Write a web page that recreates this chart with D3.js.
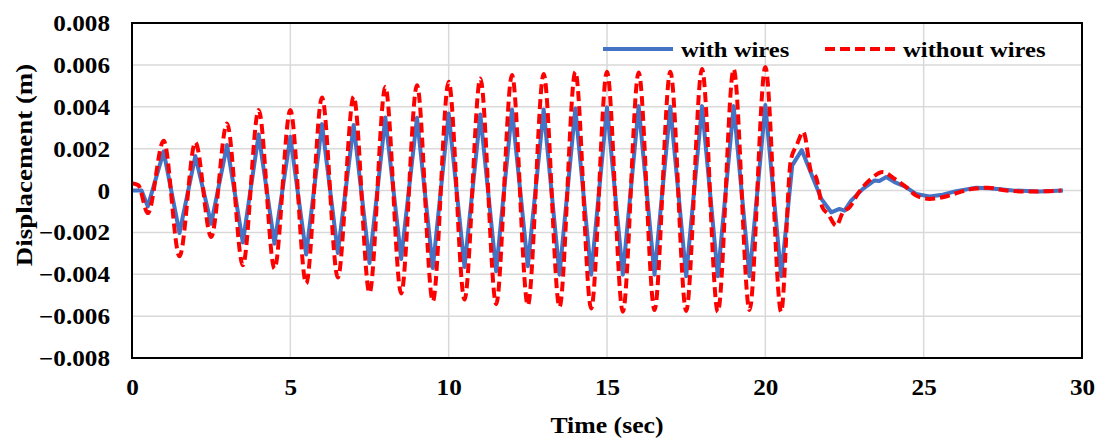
<!DOCTYPE html>
<html>
<head>
<meta charset="utf-8">
<script src="https://cdn.jsdelivr.net/npm/d3@7"></script>
<style>
  body { margin: 0; background: #fff; }
  text { font-family: "Liberation Serif", "Times New Roman", serif; font-weight: bold; fill: #000; }
</style>
</head>
<body>
<div id="chart"></div>
<script>
// time (sec) and displacement (m)
var timeWith = [0, 0.3, 0.5, 1, 1.5, 2, 2.5, 3, 3.5, 4, 4.5, 5, 5.5, 6, 6.5, 7, 7.5, 8, 8.5, 9, 9.5,
  10, 10.5, 11, 11.5, 12, 12.5, 13, 13.5, 14, 14.5, 15, 15.5, 16, 16.5, 17, 17.5, 18, 18.5, 19, 19.5,
  20, 20.5, 20.85, 21.15, 21.45, 21.77, 22.08, 22.34, 22.5, 22.71, 23.08, 23.45, 23.6, 23.82, 24.08,
  24.4, 24.76, 25.18, 25.6, 26.03, 26.66, 27.08, 27.82, 28.66, 29.4];
var dispWith = [0, 0, -0.00076, 0.00186, -0.00203, 0.00165, -0.00159, 0.00217, -0.00248, 0.00268,
  -0.00254, 0.00257, -0.00306, 0.00317, -0.00298, 0.00313, -0.00346, 0.00349, -0.00327, 0.00348,
  -0.0037, 0.00368, -0.00365, 0.00363, -0.00386, 0.00387, -0.00362, 0.00387, -0.00402, 0.00392,
  -0.00402, 0.00397, -0.00402, 0.00403, -0.00402, 0.004, -0.0041, 0.00403, -0.0041, 0.00403,
  -0.0041, 0.00408, -0.0041, 0.0012, 0.00193, 0.0008, -0.0004, -0.00104, -0.00088, -0.00096,
  -0.00048, 0.00008, 0.00048, 0.00045, 0.00064, 0.0004, 0.0002, -0.00016, -0.00029, -0.0002,
  -0.00003, 0.00013, 0.00011, 0, -0.00005, 0];

var timeWithout = [0, 0.2, 0.5, 1, 1.5, 2, 2.5, 3, 3.5, 4, 4.5, 5, 5.5, 6, 6.5, 7, 7.5, 8, 8.5, 9, 9.5,
  10, 10.5, 11, 11.5, 12, 12.5, 13, 13.5, 14, 14.5, 15, 15.5, 16, 16.5, 17, 17.5, 18, 18.5, 19, 19.5,
  20, 20.5, 20.8, 21.0, 21.2, 21.45, 21.6, 21.8, 21.98, 22.24, 22.45, 22.66, 22.92, 23.34, 23.71,
  24.08, 24.45, 24.76, 25.18, 25.6, 26.14, 26.56, 27.03, 27.6, 28.45, 29.35];
var dispWithout = [0.00035, 0.00025, -0.00108, 0.00238, -0.00314, 0.0023, -0.00222, 0.0032, -0.00357,
  0.00384, -0.00373, 0.00384, -0.00444, 0.00444, -0.00416, 0.00449, -0.00489, 0.00495, -0.00492,
  0.00503, -0.00529, 0.00519, -0.00521, 0.00535, -0.00543, 0.00552, -0.00548, 0.00556, -0.00556,
  0.00567, -0.00563, 0.00567, -0.00579, 0.00563, -0.00571, 0.00567, -0.00575, 0.0058, -0.0058,
  0.0058, -0.00571, 0.0059, -0.00579, 0.0014, 0.0022, 0.0028, 0.00088, 0.00064, -0.0008, -0.00112,
  -0.00168, -0.00104, -0.0008, -0.00016, 0.00056, 0.00088, 0.00056, 0.00016, -0.00024, -0.0004,
  -0.00032, -0.00008, 0.00008, 0.00013, 0, -0.00005, 0];

var xTicks = [0, 5, 10, 15, 20, 25, 30];
var yTicks = [-0.008, -0.006, -0.004, -0.002, 0, 0.002, 0.004, 0.006, 0.008];
var seriesNames = ["with wires", "without wires"];

var W = 1101, H = 439;
var margin = {top: 23, right: 19, bottom: 81, left: 132};
var width = W - margin.left - margin.right,
    height = H - margin.top - margin.bottom;
var stretch = 1.12; // the original lettering is a bit wide

var svg = d3.select("#chart").append("svg")
    .attr("width", W)
    .attr("height", H);
var g = svg.append("g")
    .attr("transform", "translate(" + margin.left + "," + margin.top + ")");

var x = d3.scaleLinear().domain([0, 30]).range([0, width]);
var y = d3.scaleLinear().domain([-0.008, 0.008]).range([height, 0]);

// grid
g.append("g").selectAll("line.h")
  .data(yTicks).enter().append("line")
    .attr("x1", 0).attr("x2", width)
    .attr("y1", function(d) { return y(d); })
    .attr("y2", function(d) { return y(d); })
    .attr("stroke", "#d9d9d9").attr("stroke-width", 1.5);
g.append("g").selectAll("line.v")
  .data(xTicks).enter().append("line")
    .attr("y1", 0).attr("y2", height)
    .attr("x1", function(d) { return x(d); })
    .attr("x2", function(d) { return x(d); })
    .attr("stroke", "#d9d9d9").attr("stroke-width", 1.5);

// axes (labels only)
var yAxis = g.append("g")
  .call(d3.axisLeft(y).tickValues(yTicks).tickSize(0).tickPadding(0)
    .tickFormat(function(d) { return d === 0 ? "0" : d3.format(".3f")(d); }));
yAxis.select(".domain").remove();
yAxis.selectAll("text")
  .attr("x", null).attr("dy", null).attr("y", 0)
  .attr("font-size", 22.5)
  .attr("font-family", "Liberation Serif")
  .attr("font-weight", "bold")
  .attr("text-anchor", "end")
  .attr("transform", "translate(-22,7.5) scale(" + stretch + ",1)");

var xAxis = g.append("g")
  .attr("transform", "translate(0," + height + ")")
  .call(d3.axisBottom(x).tickValues(xTicks).tickSize(0).tickFormat(d3.format("d")));
xAxis.select(".domain").remove();
xAxis.selectAll("text")
  .attr("dy", null).attr("y", 0)
  .attr("font-size", 22.5)
  .attr("font-family", "Liberation Serif")
  .attr("font-weight", "bold")
  .attr("transform", "translate(0,37) scale(" + stretch + ",1)");

// lines
var lineWith = d3.line()
  .x(function(d, i) { return x(timeWith[i]); })
  .y(function(d) { return y(d); });
var lineWithout = d3.line()
  .x(function(d, i) { return x(timeWithout[i]); })
  .y(function(d) { return y(d); })
  .curve(d3.curveMonotoneX);

g.append("path")
  .datum(dispWith)
  .attr("d", lineWith)
  .attr("fill", "none")
  .attr("stroke", "#4472c4")
  .attr("stroke-width", 4)
  .attr("stroke-linejoin", "round");

g.append("path")
  .datum(dispWithout)
  .attr("d", lineWithout)
  .attr("fill", "none")
  .attr("stroke", "#ff0000")
  .attr("stroke-width", 4)
  .attr("stroke-dasharray", "10,5");

// plot border
g.append("rect")
  .attr("width", width).attr("height", height)
  .attr("fill", "none").attr("stroke", "#000").attr("stroke-width", 2);

// axis titles
svg.append("text")
  .attr("transform", "translate(" + (margin.left + width / 2) + ",433) scale(" + stretch + ",1)")
  .attr("text-anchor", "middle")
  .attr("font-size", 23)
  .text("Time (sec)");
svg.append("text")
  .attr("transform", "translate(32,165) rotate(-90) scale(1.17,1)")
  .attr("text-anchor", "middle")
  .attr("font-size", 23)
  .text("Displacement (m)");

// legend
var legend = svg.append("g");
var legX = [603, 825];
legend.selectAll("line")
  .data(seriesNames).enter().append("line")
    .attr("x1", function(d, i) { return legX[i]; })
    .attr("x2", function(d, i) { return legX[i] + 70; })
    .attr("y1", 49).attr("y2", 49)
    .attr("stroke", function(d, i) { return i === 0 ? "#4472c4" : "#ff0000"; })
    .attr("stroke-width", 4)
    .attr("stroke-dasharray", function(d, i) { return i === 0 ? null : "10,5"; });
legend.selectAll("text")
  .data(seriesNames).enter().append("text")
    .attr("transform", function(d, i) { return "translate(" + (legX[i] + 78) + ",57) scale(" + stretch + ",1)"; })
    .attr("font-size", 22)
    .text(function(d) { return d; });
</script>
</body>
</html>
